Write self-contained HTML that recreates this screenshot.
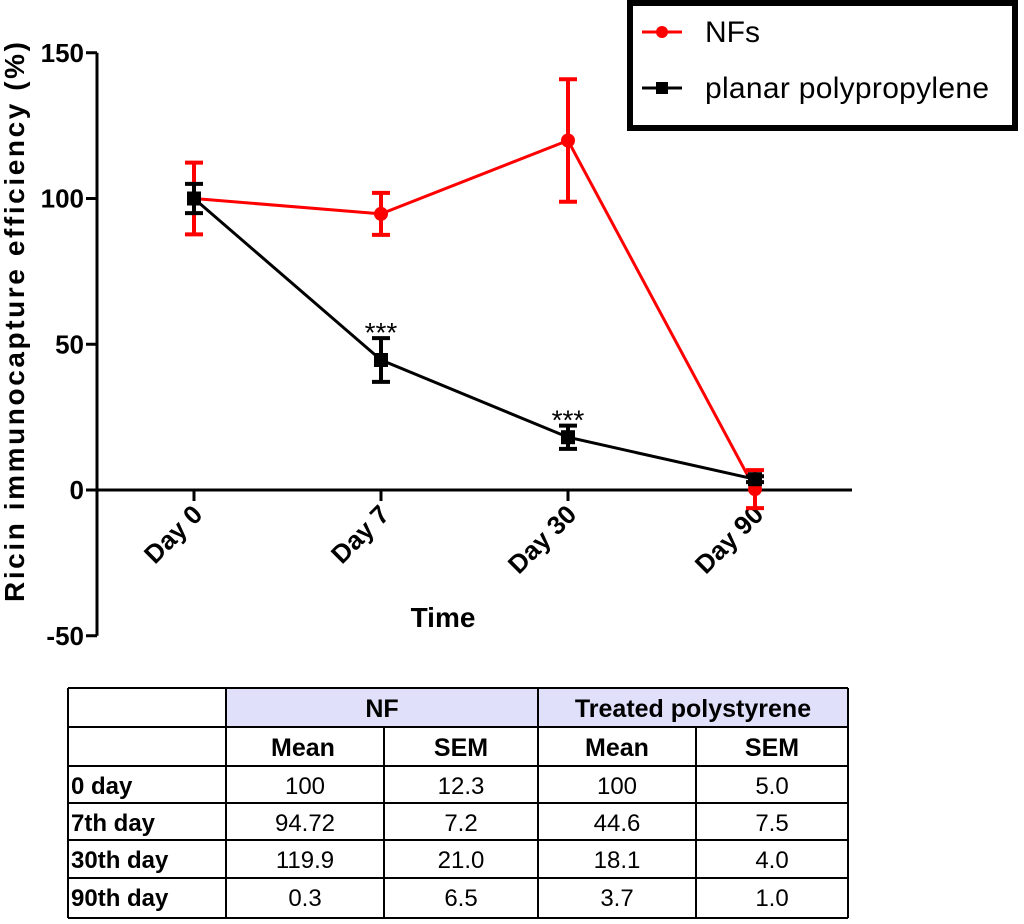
<!DOCTYPE html>
<html><head><meta charset="utf-8"><style>
body{margin:0;background:#fff;width:1024px;height:924px;overflow:hidden}
svg{display:block}
text{font-family:"Liberation Sans",Arial,sans-serif}
</style></head><body>
<svg id="c" width="1024" height="924" xmlns="http://www.w3.org/2000/svg">
<g id="axes"></g>
<g id="series"></g>
<g>
<rect x="630" y="3" width="385" height="125" fill="#fff" stroke="#000" stroke-width="6"/>
<g>
<line x1="642" y1="32" x2="682" y2="32" stroke="#f00" stroke-width="3"/><circle cx="662" cy="32" r="6" fill="#f00"/>
<text x="705" y="42" font-size="30">NFs</text></g>
<g>
<line x1="642" y1="88" x2="682" y2="88" stroke="#000" stroke-width="3"/><rect x="656" y="82" width="12" height="12" fill="#000"/>
<text x="705" y="98" font-size="30" textLength="284">planar polypropylene</text></g>
</g>
<g id="table"></g>
</svg>
<script>
const categories=["Day 0","Day 7","Day 30","Day 90"];
const nfMean=[100,94.72,119.9,0.3];
const nfSem=[12.3,7.2,21.0,6.5];
const ppMean=[100,44.6,18.1,3.7];
const ppSem=[5.0,7.5,4.0,1.0];
const yTicks=[150,100,50,0,-50];
const sigLabels=["","***","***",""];
const NS="http://www.w3.org/2000/svg";
function y(v){return 490-(v)*2.915;}
function x(i){return 194+i*187;}
function mk(tag,attrs,parent,txt){const e=document.createElementNS(NS,tag);for(const k in attrs)e.setAttribute(k,attrs[k]);if(txt!==undefined)e.textContent=txt;parent.appendChild(e);return e;}
const ax=document.getElementById('axes');
let e=mk('line',{x1:97,y1:y(150),x2:97,y2:y(-50),stroke:'#000','stroke-width':3},ax);

e=mk('line',{x1:97,y1:y(0),x2:852,y2:y(0),stroke:'#000','stroke-width':3},ax);

yTicks.forEach(t=>{mk('line',{x1:86,y1:y(t),x2:97,y2:y(t),stroke:'#000','stroke-width':3},ax);
e=mk('text',{x:84,y:y(t)+9,'text-anchor':'end','font-size':26,'font-weight':'bold'},ax,String(t));
});
categories.forEach((c,i)=>{mk('line',{x1:x(i),y1:y(0),x2:x(i),y2:y(0)+11,stroke:'#000','stroke-width':3},ax);
e=mk('text',{x:x(i)+10,y:y(0)+26,'text-anchor':'end','font-size':26,'font-weight':'bold',transform:`rotate(-45 ${x(i)+10} ${y(0)+26})`},ax,c);
});
e=mk('text',{x:443,y:627,'text-anchor':'middle','font-size':28,'font-weight':'bold'},ax,'Time');

e=mk('text',{x:24,y:322,'text-anchor':'middle','font-size':28,'font-weight':'bold',textLength:560,transform:`rotate(-90 24 322)`},ax,'Ricin immunocapture  efficiency (%)');

const sg=document.getElementById('series');
function series(mean,sem,col,shape,name){
  const g=mk('g',{},sg);
  mk('polyline',{points:mean.map((m,i)=>x(i)+','+y(m)).join(' '),fill:'none',stroke:col,'stroke-width':3},g);
  mean.forEach((m,i)=>{
    const eb=mk('g',{stroke:col,'stroke-width':4},g);
    mk('line',{x1:x(i),y1:y(m+sem[i]),x2:x(i),y2:y(m-sem[i])},eb);
    mk('line',{x1:x(i)-9,y1:y(m+sem[i]),x2:x(i)+9,y2:y(m+sem[i])},eb);
    mk('line',{x1:x(i)-9,y1:y(m-sem[i]),x2:x(i)+9,y2:y(m-sem[i])},eb);
    let p;
    if(shape==='c')p=mk('circle',{cx:x(i),cy:y(m),r:7,fill:col},g);
    else p=mk('rect',{x:x(i)-7,y:y(m)-7,width:14,height:14,fill:col},g);
    
  });
}
series(nfMean,nfSem,'#f00','c','series-nfs');
series(ppMean,ppSem,'#000','s','series-planar-polypropylene');
sigLabels.forEach((s,i)=>{if(!s)return;
  e=mk('text',{x:x(i),y:y(ppMean[i]+ppSem[i])+4,'text-anchor':'middle','font-size':28},sg,s);
  });
const tb=document.getElementById('table');
const cols=[68,226,384,538,696,848];
const rows=[688,727,766,803,840,878,918];
mk('rect',{x:226,y:688,width:622,height:39,fill:'#e0e0fa'},tb);
const L=(x1,y1,x2,y2)=>mk('line',{x1,y1,x2,y2,stroke:'#000','stroke-width':2},tb);
rows.forEach(r=>L(68,r,848,r));
L(68,688,68,918);L(848,688,848,918);L(226,688,226,918);L(538,688,538,918);
L(384,727,384,918);L(696,727,696,918);
const hdr=(t,cx,r)=>{e=mk('text',{x:cx,y:r+29,'text-anchor':'middle','font-size':25,'font-weight':'bold'},tb,t);};
hdr('NF',382,688);hdr('Treated polystyrene',693,688);
hdr('Mean',303,727);hdr('SEM',461,727);hdr('Mean',617,727);hdr('SEM',772,727);
const rowLabels=['0 day','7th day','30th day','90th day'];
const cells=[['100','12.3','100','5.0'],['94.72','7.2','44.6','7.5'],['119.9','21.0','18.1','4.0'],['0.3','6.5','3.7','1.0']];
rowLabels.forEach((rl,i)=>{const r=rows[i+2];
  e=mk('text',{x:71,y:r+28,'font-size':24,'font-weight':'bold'},tb,rl);
  cells[i].forEach((v,j)=>{e=mk('text',{x:(cols[j+1]+cols[j+2])/2,y:r+28,'text-anchor':'middle','font-size':24},tb,v);
  });});
</script>
</body></html>
